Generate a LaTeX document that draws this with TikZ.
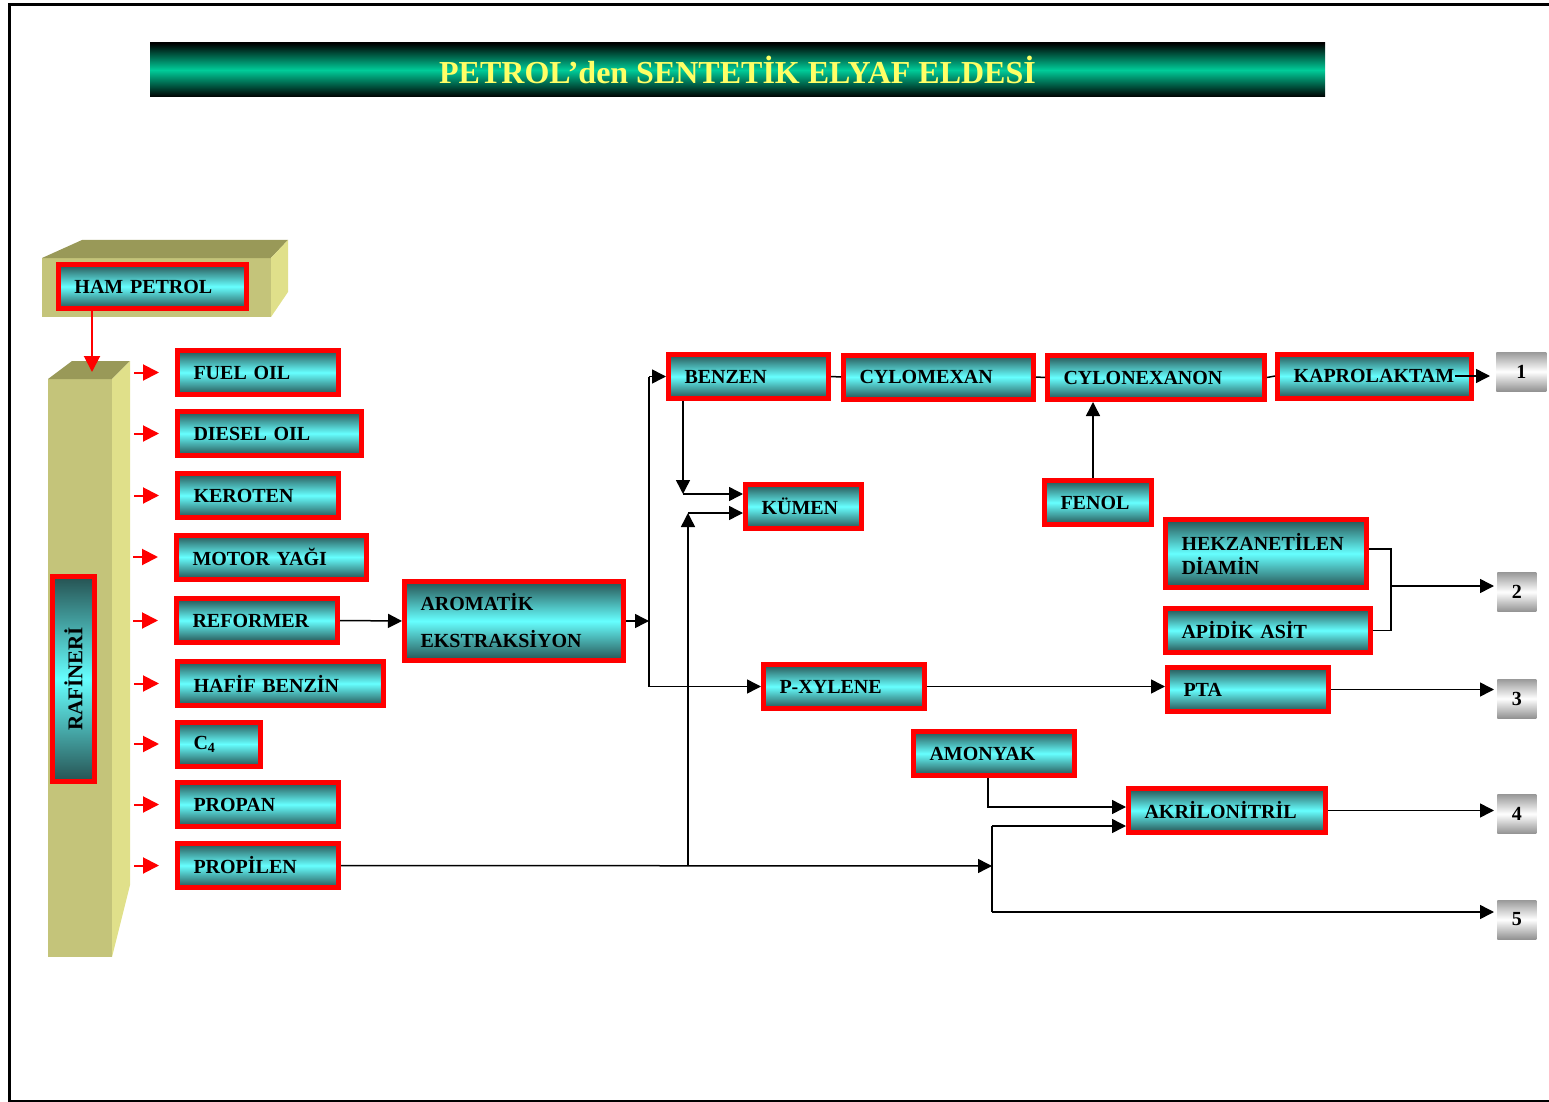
\documentclass[tikz,border=0pt]{standalone}
\usepackage{fontspec}
\usepackage{graphicx}
\setmainfont{Liberation Serif}
\usetikzlibrary{arrows.meta}
\definecolor{koyu}{RGB}{38,82,82}
\definecolor{camgobegi}{RGB}{102,255,255}
\definecolor{yesil}{RGB}{0,204,153}
\definecolor{sari}{RGB}{255,255,102}
\definecolor{blokon}{RGB}{196,196,122}
\definecolor{blokust}{RGB}{153,153,88}
\definecolor{bloksag}{RGB}{224,224,138}
\tikzset{
  kutu/.style={draw=red, line width=2.5pt, top color=koyu, bottom color=koyu,
    middle color=camgobegi, minimum height=22pt, inner xsep=8pt, inner ysep=0pt,
    align=left, text width=#1, font=\bfseries\fontsize{10}{12}\selectfont},
  numara/.style={top color=gray!80, bottom color=gray!85, middle color=white,
    minimum width=#1, minimum height=19.5pt, inner sep=0pt,
    font=\bfseries\fontsize{10}{12}\selectfont},
  ok/.style={line width=0.75pt, -{Triangle[length=7pt,width=7pt]}},
  kok/.style={red, line width=1pt, -{Triangle[length=8pt,width=8pt]}},
  cizgi/.style={line width=0.75pt}
}
\begin{document}
\begin{tikzpicture}[x=0.5pt,y=-0.5pt]
  \useasboundingbox (0,0) rectangle (1549,1102);
  % cerceve
  \draw[line width=1.5pt] (1549,5) -- (9,5) -- (9,1101) -- (1549,1101);
  % baslik
  \node[top color=black, bottom color=black, middle color=yesil,
    minimum width=587.5pt, minimum height=27pt, inner sep=0pt,
    text=sari, font=\bfseries\fontsize{16}{18}\selectfont] (baslik) at (737.5,70)
    {PETROL’den SENTETİK ELYAF ELDESİ};
  % ham petrol blogu
  \fill[blokon] (42,258) rectangle (271,317);
  \fill[blokust] (42,258) -- (82,240) -- (288,240) -- (271,258) -- cycle;
  \fill[bloksag] (271,258) -- (288,240) -- (288,292) -- (271,317) -- cycle;
  % rafineri kolonu
  \fill[blokon] (48,379) rectangle (112,957);
  \fill[blokust] (48,379) -- (72,361) -- (130,361) -- (112,379) -- cycle;
  \fill[bloksag] (112,379) -- (130,361) -- (130,885) -- (112,957) -- cycle;
  \node[kutu=78pt, anchor=west] (ham) at (56,286.5) {HAM PETROL};
  \node[draw=red, line width=2.5pt, top color=koyu, bottom color=koyu,
    middle color=camgobegi, minimum width=21pt, minimum height=102.5pt,
    inner sep=0pt, font=\bfseries\fontsize{10.5}{12}\selectfont] (raf) at (73.5,679)
    {\rotatebox{90}{RAFİNERİ}};
  \coordinate (rtepe) at (92,372);
  \draw[kok] (ham.south -| rtepe) -- (rtepe);
  % rafineri urunleri
  \node[kutu=64.5pt, anchor=west] (fuel) at (175,372.5) {FUEL OIL};
  \node[kutu=76pt, anchor=west] (diesel) at (175,433.5) {DIESEL OIL};
  \node[kutu=64.5pt, anchor=west] (keroten) at (175,495.5) {KEROTEN};
  \node[kutu=79pt, anchor=west] (motor) at (174,557) {MOTOR YAĞI};
  \node[kutu=64.5pt, anchor=west] (reformer) at (174,620.5) {REFORMER};
  \node[kutu=87pt, anchor=west] (hafif) at (175,683.5) {HAFİF BENZİN};
  \node[kutu=25.5pt, anchor=west] (c4) at (175,744) {C$_{\mathbf{4}}$};
  \node[kutu=64.5pt, anchor=west] (propan) at (175,804.5) {PROPAN};
  \node[kutu=64.5pt, anchor=west] (propilen) at (175,865.5) {PROPİLEN};
  \foreach \u in {fuel,diesel,keroten,motor,reformer,hafif,c4,propan,propilen}
    \draw[kok] ([xshift=-20.5pt]\u.west) -- ([xshift=-8pt]\u.west);
  % ara urunler
  \node[kutu=93.5pt, anchor=west, minimum height=39.5pt] (arom) at (402,621)
    {AROMATİK\\[6.5pt]EKSTRAKSİYON};
  \node[kutu=64pt, anchor=west] (benzen) at (666,376.5) {BENZEN};
  \node[kutu=79pt, anchor=west] (cylomexan) at (841,377) {CYLOMEXAN};
  \node[kutu=92.5pt, anchor=west] (cylonexanon) at (1045,377.5) {CYLONEXANON};
  \node[kutu=81pt, anchor=west] (kapro) at (1275,376) {KAPROLAKTAM};
  \node[kutu=42pt, anchor=west] (kumen) at (743,506.5) {KÜMEN};
  \node[kutu=37.5pt, anchor=west] (fenol) at (1042,502.5) {FENOL};
  \node[kutu=84.5pt, anchor=west, minimum height=34pt] (hekz) at (1163,553.5)
    {HEKZANETİLEN\\DİAMİN};
  \node[kutu=86.5pt, anchor=west] (apidik) at (1163,630.5) {APİDİK ASİT};
  \node[kutu=64.5pt, anchor=west] (pxylene) at (761,686.5) {P-XYLENE};
  \node[kutu=64.5pt, anchor=west] (pta) at (1165,689.5) {PTA};
  \node[kutu=64.5pt, anchor=west] (amonyak) at (911,753.5) {AMONYAK};
  \node[kutu=82.5pt, anchor=west] (akril) at (1126,810.5) {AKRİLONİTRİL};
  % sonuc kutulari
  \node[numara=25pt, anchor=west] (n1) at (1496,371.5) {1};
  \node[numara=19.5pt, anchor=west] (n2) at (1497,592) {2};
  \node[numara=19.5pt, anchor=west] (n3) at (1497,698.5) {3};
  \node[numara=19.5pt, anchor=west] (n4) at (1497,814) {4};
  \node[numara=19.5pt, anchor=west] (n5) at (1497,919.5) {5};
  % baglantilar
  \draw[ok] (reformer.east) -- (arom.west);
  \coordinate (dal) at (649,621);
  \draw[ok] (arom.east) -- (dal);
  \draw[cizgi] (dal |- benzen.west) -- (dal |- pxylene.west);
  \draw[ok] (dal |- benzen.west) -- (benzen.west);
  \draw[ok] (dal |- pxylene.west) -- (pxylene.west);
  \draw[cizgi] (benzen.east) -- (cylomexan.west);
  \draw[cizgi] (cylomexan.east) -- (cylonexanon.west);
  \draw[cizgi] (cylonexanon.east) -- (kapro.west);
  \draw[ok, shorten >=3pt] ([xshift=-9.5pt]kapro.east) -- (kapro.east -| n1.west);
  \coordinate (k1) at (683,494);
  \draw[ok] (benzen.south -| k1) -- (k1);
  \draw[ok] (k1) -- (k1 -| kumen.west);
  \coordinate (k2) at (688,513);
  \coordinate (ayr) at (992,866);
  \draw[ok] (propilen.east) -- (ayr);
  \draw[ok] (k2 |- propilen.east) -- (k2);
  \draw[ok] (k2) -- (k2 -| kumen.west);
  \draw[ok] ([xshift=-2.5pt]fenol.north) -- ([xshift=-2.5pt]fenol.north |- cylonexanon.south);
  \coordinate (h1) at (1391,549);
  \coordinate (h2) at (1391,586);
  \draw[cizgi] (h1 -| hekz.east) -- (h1) -- (h1 |- apidik.east) -- (apidik.east);
  \draw[ok, shorten >=1.5pt] (h2) -- (h2 -| n2.west);
  \draw[ok] (pxylene.east) -- (pxylene.east -| pta.west);
  \draw[ok, shorten >=1.5pt] (pta.east) -- (pta.east -| n3.west);
  \coordinate (a1) at (988,807);
  \draw[ok] (amonyak.south -| a1) -- (a1) -- (a1 -| akril.west);
  \coordinate (a2) at (992,826);
  \coordinate (a3) at (992,912);
  \draw[cizgi] (a2) -- (a3);
  \draw[ok] (a2) -- (a2 -| akril.west);
  \draw[ok, shorten >=1.5pt] (a3) -- (a3 -| n5.west);
  \draw[ok, shorten >=1.5pt] (akril.east) -- (akril.east -| n4.west);
\end{tikzpicture}
\end{document}
